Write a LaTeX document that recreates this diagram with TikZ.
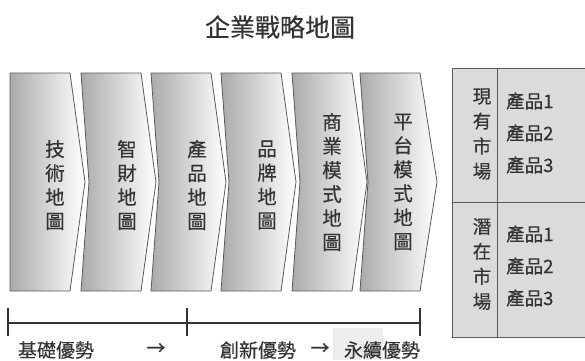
\documentclass[tikz,border=0pt]{standalone}
\usepackage{fontspec}
\setmainfont{Noto Sans CJK TC}[BoldFont=Noto Sans CJK TC, BoldFeatures={FakeBold=0.35}]
\begin{document}
\begin{tikzpicture}[x=1pt, y=-1pt,
  every node/.style={text=black!80, inner sep=0pt, font=\bfseries},
  chevron/.style={left color=black!33, middle color=black!20, right color=white, draw=black!65, line width=0.8pt},
  maptext/.style={align=center, font=\bfseries\fontsize{19.5}{24}\selectfont},
  marktext/.style={align=center, font=\bfseries\fontsize{18.5}{25}\selectfont},
  prodtext/.style={align=left, anchor=west, font=\bfseries\fontsize{18.5}{32}\selectfont},
  stagetext/.style={font=\bfseries\fontsize{19}{22}\selectfont},
  bar/.style={draw=black!80, line width=1.3pt}]
\useasboundingbox (0,0) rectangle (585,360);

\node[font=\bfseries\fontsize{25}{28}\selectfont] (title) at (280,27) {企業戰略地圖};

\draw[chevron] (10,73) -- (70,73) -- (85,182) -- (70,291) -- (10,291) -- cycle;
\draw[chevron] (81,73) -- (141,73) -- (156,182) -- (141,291) -- (81,291) -- (89,182) -- cycle;
\draw[chevron] (151,73) -- (211,73) -- (226,182) -- (211,291) -- (151,291) -- (159,182) -- cycle;
\draw[chevron] (221,73) -- (281,73) -- (296,182) -- (281,291) -- (221,291) -- (229,182) -- cycle;
\draw[chevron] (292,73) -- (352,73) -- (367,182) -- (352,291) -- (292,291) -- (300,182) -- cycle;
\draw[chevron] (360,73) -- (420,73) -- (437,182) -- (420,291) -- (360,291) -- (368,182) -- cycle;

\node[maptext] (m1) at (55,185) {技\\術\\地\\圖};
\node[maptext] (m2) at (127,185) {智\\財\\地\\圖};
\node[maptext] (m3) at (197,185) {產\\品\\地\\圖};
\node[maptext] (m4) at (267,185) {品\\牌\\地\\圖};
\node[maptext] (m5) at (332,182) {商\\業\\模\\式\\地\\圖};
\node[maptext] (m6) at (403,182) {平\\台\\模\\式\\地\\圖};

\fill[black!14] (452,68) rectangle (585,337);
\draw[black!65, line width=0.8pt] (585,68) -- (452,68) -- (452,337) -- (585,337);
\draw[black!65, line width=0.8pt] (452,202) -- (585,202);
\draw[black!65, line width=0.8pt] (497,68) -- (497,337);

\node[marktext] (k1) at (482,134) {現\\有\\市\\場};
\node[marktext] (k2) at (482,264) {潛\\在\\市\\場};
\node[prodtext] (p1) at (506,133) {產品1\\產品2\\產品3};
\node[prodtext] (p2) at (506,266) {產品1\\產品2\\產品3};

\coordinate (t1) at (8,323);
\coordinate (t2) at (187,323);
\coordinate (t3) at (420,323);
\draw[bar] (t1) -- (t3);
\draw[bar] ([yshift=-13pt]t1) -- ([yshift=15pt]t1);
\draw[bar] ([yshift=-13pt]t2) -- ([yshift=15pt]t2);
\draw[bar] ([yshift=-13pt]t3) -- ([yshift=15pt]t3);

\fill[black!7] (333,328) rectangle (383,360);
\node[stagetext] (s1) at (56,350) {基礎優勢};
\node[stagetext] (a1) at (156,349) {→};
\node[stagetext] (s2) at (258,350) {創新優勢};
\node[stagetext] (a2) at (320,349) {→};
\node[stagetext] (s3) at (382,350) {永續優勢};
\end{tikzpicture}
\end{document}
